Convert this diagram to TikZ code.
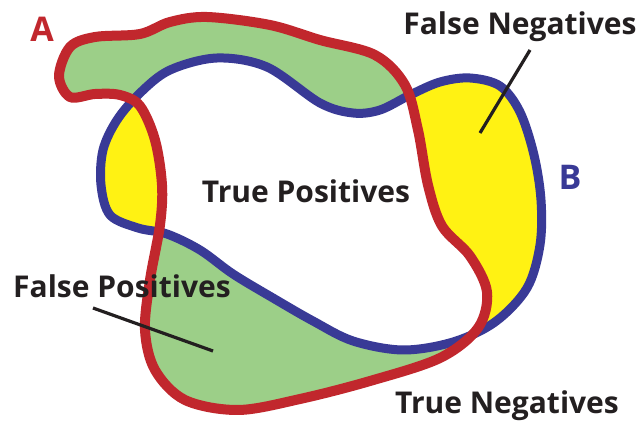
\documentclass[tikz,border=0pt]{standalone}
\usepackage{fontspec}
\setmainfont{Open Sans}
\usepackage{tikz}
\usetikzlibrary{positioning}
\usepackage{xcolor}
\definecolor{setA}{HTML}{C1272D}
\definecolor{setB}{HTML}{393A96}
\definecolor{onlyA}{HTML}{9CCF88}
\definecolor{onlyB}{HTML}{FFF213}
\definecolor{ink}{HTML}{231F20}
\tikzset{
  outlineA/.style={draw=setA,line width=10pt,line join=round},
  outlineB/.style={draw=setB,line width=9pt,line join=round},
  region/.style={font=\fontsize{30}{32}\selectfont\bfseries,text=ink,anchor=base,inner sep=0pt},
  setname/.style={font=\fontsize{34}{36}\selectfont\bfseries,anchor=base,inner sep=0pt},
  pointer/.style={draw=ink,line width=3.2pt}
}
\def\blobA{plot[smooth cycle,tension=0.55] coordinates {
  (207,17) (270,25) (320,40) (375,55) (405,85) (418,130) (428,185)
  (442,226) (470,256) (487,292) (478,328) (440,358) (370,381) (300,399)
  (238,410) (185,400) (155,370) (145,330) (150,280) (160,225) (162,185)
  (155,140) (140,106) (120,95) (95,94) (70,97) (59,76) (70,47) (95,37)
  (140,34) (170,22)}}
\def\blobB{plot[smooth cycle,tension=0.55] coordinates {
  (320,103) (353,113) (380,110) (410,95) (440,82) (470,78) (500,86)
  (520,112) (534,155) (541,200) (540,245) (527,288) (495,322) (453,342)
  (403,350) (353,341) (313,321) (273,298) (233,274) (200,250) (167,234)
  (138,228) (110,215) (101,185) (103,150) (117,120) (140,93) (170,70)
  (217,58) (267,67)}}

\begin{document}
\begin{tikzpicture}[x=1pt,y=-1pt]
  \useasboundingbox (0,0) rectangle (641,422);
  \fill[onlyA] \blobA;
  \fill[onlyB] \blobB;
  \begin{scope}
    \clip \blobA;
    \fill[white] \blobB;
  \end{scope}
  \draw[outlineB] \blobB;
  \draw[outlineA] \blobA;
  \node[setname,text=setA] (nameA) at (42,42) {A};
  \node[setname,text=setB] (nameB) at (570,190) {B};
  \node[region] (tp) at (306,203) {True Positives};
  \node[region] (fn) at (520,35) {False Negatives};
  \node[region] (fp) at (122,298) {False Positives};
  \node[region] (tn) at (507,414) {True Negatives};
  \coordinate (fnfrom) at (530,50);
  \coordinate (fnto) at (480,133);
  \coordinate (fpfrom) at (93,308);
  \coordinate (fpto) at (213,351);
  \draw[pointer] (fnfrom) -- (fnto);
  \draw[pointer] (fpfrom) -- (fpto);
\end{tikzpicture}
\end{document}
